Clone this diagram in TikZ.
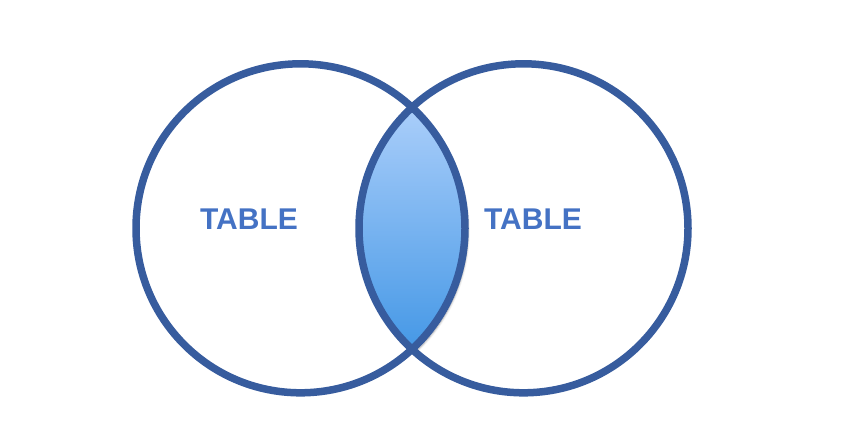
\documentclass[tikz,border=0pt]{standalone}
\usepackage{fontspec}
\setmainfont{Liberation Sans}
\usetikzlibrary{positioning,calc,shadows.blur}
\definecolor{ringblue}{HTML}{375C9E}
\definecolor{textblue}{HTML}{4472C4}
\definecolor{lenstop}{HTML}{AACEFA}
\definecolor{lensbot}{HTML}{4598E6}

\begin{document}
\begin{tikzpicture}[x=1pt,y=1pt,
  ring/.style={draw=ringblue,line width=7.5pt},
  tablelabel/.style={text=textblue,font=\fontsize{30}{30}\selectfont\bfseries}]
\useasboundingbox (0,0) rectangle (859,440);
\coordinate (cl) at (300.5,211.7);
\coordinate (cr) at (523.5,211.7);
\coordinate (top) at ($(cl)+(47.3:164.5)$);
% shaded overlap
\path[top color=lenstop,bottom color=lensbot,
  blur shadow={shadow xshift=3pt,shadow yshift=-3pt,shadow opacity=35,shadow blur steps=8}]
  (top) arc[start angle=47.3,end angle=-47.3,radius=164.5]
  arc[start angle=227.3,end angle=132.7,radius=164.5] -- cycle;
\draw[ring] (cl) circle[radius=164.5];
\draw[ring] (cr) circle[radius=164.5];
\node[tablelabel] (tabA) at (249,221) {TABLE};
\node[tablelabel] (tabB) at (533,221) {TABLE};
\end{tikzpicture}
\end{document}
